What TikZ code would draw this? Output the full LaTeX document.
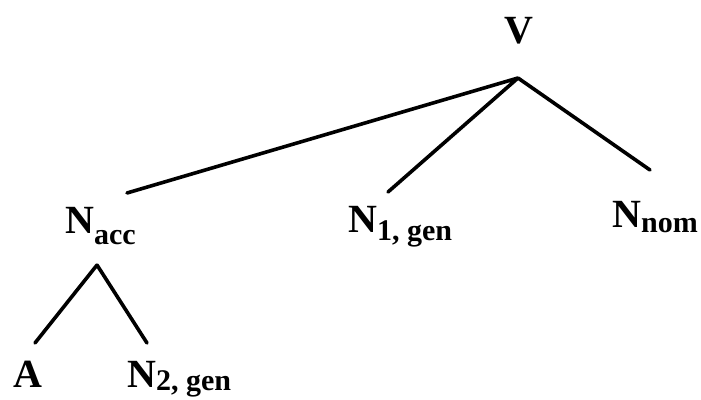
\documentclass[tikz,border=0pt]{standalone}
\usepackage{fontspec}
\setmainfont{Liberation Serif}
\usepackage{tikz}
\usetikzlibrary{calc}

\newcommand{\sublbl}[3]{#1\raisebox{-#3pt}{\fontsize{30}{34}\selectfont #2}}

\begin{document}
\begin{tikzpicture}[
    x=1pt, y=-1pt,
    every node/.style={inner sep=0pt, font=\fontsize{40}{46}\selectfont\bfseries},
    branch/.style={draw, line width=3.6pt, line cap=round}
  ]
    \useasboundingbox (0,0) rectangle (701,399);

    \node[anchor=base]      (V)       at (519,43)  {V};
    \node[anchor=base west] (Nacc)    at (65,233)  {\sublbl{N}{acc}{11}};
    \node[anchor=base west] (Nonegen) at (348,232) {\sublbl{N}{1, gen}{8}};
    \node[anchor=base west] (Nnom)    at (612,227) {\sublbl{N}{nom}{5}};
    \node[anchor=base west] (A)       at (13,387)  {A};
    \node[anchor=base west] (Ntwogen) at (127,387) {\sublbl{N}{2, gen}{3}};

    \path[branch]
      ($(V.base)+(-1,35)$) -- ($(Nacc.base west)+(62,-40)$)
      ($(V.base)+(-1,35)$) -- ($(Nonegen.base west)+(40,-40)$)
      ($(V.base)+(-1,35)$) -- ($(Nnom.base west)+(38,-57)$)
      ($(Nacc.base west)+(32,32)$) -- ($(A.base west)+(22,-44)$)
      ($(Nacc.base west)+(32,32)$) -- ($(Ntwogen.base west)+(20,-44)$);
  \end{tikzpicture}
\end{document}
